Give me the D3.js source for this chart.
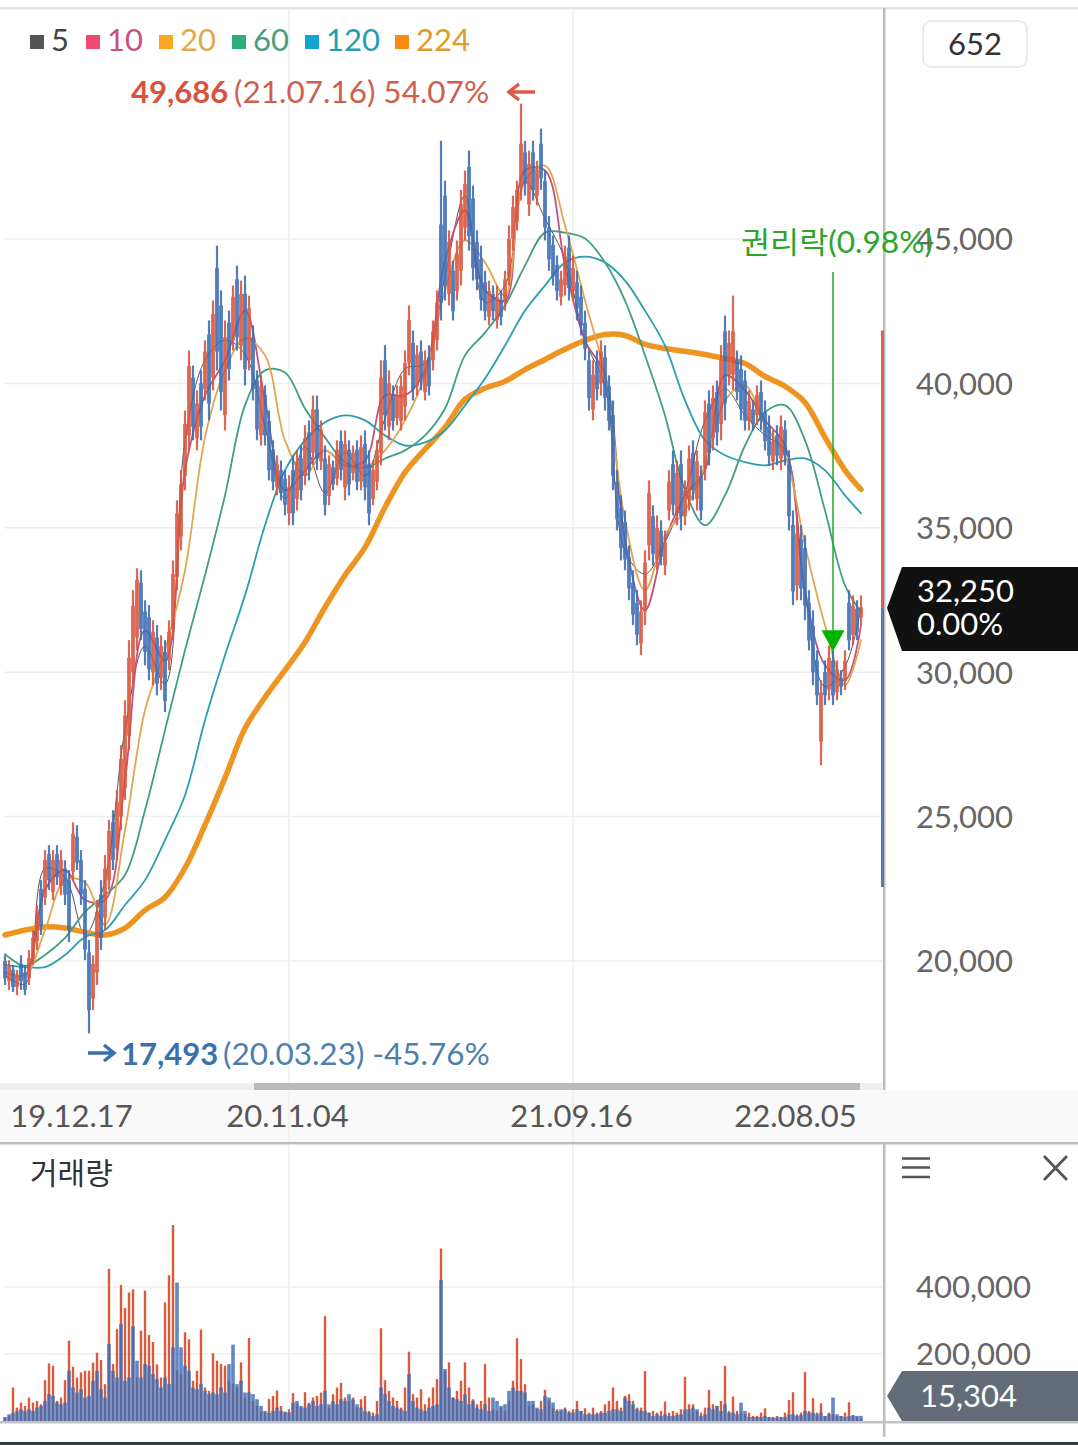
<!DOCTYPE html>
<html>
<head>
<meta charset="utf-8">
<script src="https://d3js.org/d3.v7.min.js"></script>
<style>
    body { margin: 0; background: #fff; }
    text { font-family: Lato, "Noto Sans CJK KR", sans-serif; }
</style>
</head>
<body>
<div id="chart"></div>
<script>
// candles, oldest first
var highs = [20200,20030,19860,19690,20200,19860,20380,21070,21940,22800,23840,24010,23840,24010,23840,23490,23150,24800,24700,23840,22800,20730,20200,22110,22800,23670,24880,25220,25920,27470,29030,31110,32840,33600,33530,32490,32320,31800,31630,31280,31110,31800,33870,35950,37000,39060,41140,40620,39760,40450,41490,42180,42870,44770,43220,42180,42520,43390,44080,43560,43730,43040,42010,40450,40280,39930,39060,38030,37510,37330,36990,36820,37510,37680,37850,38550,38720,39580,39580,38720,37850,37510,37330,38030,38370,38370,38030,37850,38030,38200,38370,37680,37330,38030,40800,41320,40450,39930,39930,40280,41140,42700,41830,41320,41490,41140,41320,42180,43220,48400,47020,45300,44250,44950,46700,47370,48060,46850,45300,44770,43900,43560,43390,43390,43220,43900,45470,46500,47020,49686,48400,48060,48400,47710,48820,47370,45800,45120,44430,43900,44770,45120,44430,43900,43390,42520,41140,40800,41140,41490,41320,40280,39410,36990,36120,35600,34390,33530,32840,32490,34220,36640,35780,35430,35260,34910,36990,37680,37330,37680,36640,37850,38030,37680,37160,39410,39760,39930,40100,41320,42350,41830,43040,41140,40970,40450,39760,39410,39930,40100,39410,38890,38370,38550,38890,38720,37680,35600,35260,35090,34740,32840,32140,30760,29720,30410,30930,30760,30410,30070,30760,32840,32660,32490,32660];
var lows = [19170,19000,18930,18820,19000,18820,19170,19860,20380,20900,21940,22460,22110,22630,22280,21940,20660,22800,23150,21940,20030,17493,18300,19170,20380,21070,22460,23150,23490,24530,25570,27300,29380,30760,31110,30240,29720,29550,29200,29380,28620,30070,31110,32840,34220,36300,37680,38030,37680,38030,39410,38720,39760,40450,39060,38370,40100,41140,41140,40800,39930,40450,39410,38030,37850,37850,36640,36300,36120,35950,35430,35090,35090,35600,35950,36470,36640,37160,37000,37000,35430,35780,36300,36470,36640,35950,36120,36640,36300,36300,35950,35090,35780,36300,37160,38370,38030,38370,38550,38370,38720,40280,39410,39580,39760,39410,39580,40450,41140,42180,42870,42700,42180,42870,43390,44950,44600,43560,43220,42520,42180,42010,42180,41900,42010,42520,43390,44600,45300,46330,46500,45800,46330,46160,46700,44950,43900,43390,42870,42700,43040,42870,42870,42180,41660,40800,39060,38720,39410,39580,39060,38370,36300,34910,33870,33530,32490,31630,30930,30590,31630,33870,33700,33530,33700,33360,35260,35430,35090,34910,35090,35600,35950,35600,35260,36640,37160,37680,37850,38030,38720,39930,39760,39410,38720,38370,38370,38370,38550,38370,37680,37160,37000,37160,37000,37160,34910,32320,32490,32490,31800,30760,29550,28860,26780,28860,29030,28860,29030,29200,29380,30760,30930,31110,31630];
var opens = [20000,19300,19700,19100,19900,19600,19400,20100,20700,22500,22200,23700,22400,23700,22600,23200,22800,23100,24300,23500,22500,20300,18700,19600,22300,21500,22800,24800,23900,25000,26000,27800,30000,31200,33100,32100,31900,30000,31200,29800,30700,30400,31500,33300,34700,36800,38200,40200,38100,40000,39800,41700,40200,44000,42700,38900,42100,41500,43600,41300,43100,40800,41600,40100,38200,39600,38700,37700,36400,37000,36700,35500,37000,36000,37400,36800,38300,37600,39100,37300,37400,36100,37100,36700,38000,36400,37700,36900,37700,36600,37900,37200,36000,36600,37600,40800,38500,39600,38800,38700,39200,40700,41400,39900,41100,39700,40900,40800,41500,45500,46500,43100,43900,43200,43900,45400,47500,46400,44900,44300,43500,42300,43100,42200,42900,42800,43700,45000,45600,46800,48000,46200,48000,46500,48300,47000,45400,44800,44100,43000,43400,44700,43200,43500,43000,42100,40800,39100,40700,40000,40900,39900,38900,36600,35700,35200,34000,33100,32400,31000,32100,34400,35400,33900,34900,33700,35600,37200,35500,37200,35400,36000,37600,36000,36800,37100,39300,38100,39700,38600,41800,40300,40300,40800,40500,40100,38700,39100,38900,39700,39000,38500,37300,38200,37400,38400,37200,35100,33000,34600,34300,32400,31600,30400,27600,30000,29400,30400,29300,29800,29700,32400,31300,32200,31900];
var closes = [19400,19800,19100,19500,19300,19000,20100,20800,21600,21200,23500,22800,23500,22900,23500,22300,21100,24400,23400,22300,20400,18300,19900,21700,20800,23200,24500,23500,25500,27000,28500,30500,32300,33200,31500,30700,30100,31400,29600,30900,29000,31400,33400,35500,36500,38600,40600,38500,39300,38500,41100,39300,42400,41100,39700,41600,40500,43000,41600,43100,40500,42600,39800,38400,39900,38200,37000,36600,37200,36200,35800,36400,35500,37300,36300,38100,37000,39100,37400,38400,35800,37200,36500,37700,37000,37900,36500,37600,36600,37800,36400,35500,37000,37700,40200,38900,40000,38700,39600,39900,40700,42200,39800,41000,40100,40800,39900,41800,42800,42800,43400,44900,42500,44500,46200,46900,45100,44000,43600,42900,42500,43200,42500,43000,42300,43600,45000,46100,46700,48300,46900,47600,46700,47400,47100,45400,44300,43700,43200,43600,44400,43300,44000,42600,42000,41200,39500,40300,39800,41100,39500,38700,36800,35300,34300,33900,32900,32000,31300,32100,33800,36200,34100,35000,34000,34500,36600,35800,36900,35400,36300,37400,36300,37300,35600,39000,37600,39500,38300,40800,39300,41400,41800,39700,39100,38700,39400,38600,39600,38700,38000,37500,38000,37500,38500,37500,35400,32800,34800,32900,32300,31100,30000,29200,29300,29200,30500,29200,30100,29500,30400,31100,32300,31400,32250];

// volume, by up days and down days
var volumeUp = [10,15,100,40,55,45,70,55,60,50,122,172,165,60,70,122,240,162,130,145,150,150,174,204,182,110,454,170,274,406,337,384,393,130,270,389,257,236,169,130,354,435,585,150,140,265,244,120,150,273,100,90,202,180,170,165,120,110,100,175,70,248,60,45,30,25,66,75,91,45,25,35,83,50,40,86,55,70,75,85,313,40,80,100,114,70,60,70,40,65,75,30,25,60,277,122,90,70,60,40,100,207,80,70,95,50,70,100,125,515,150,175,70,90,120,175,100,65,50,60,170,70,35,30,40,30,60,120,247,185,110,45,50,35,60,93,60,40,35,30,40,30,35,60,30,38,25,40,25,30,50,60,100,60,40,75,80,60,40,40,149,25,30,25,30,58,25,30,25,35,132,50,50,30,25,40,93,50,45,60,164,30,73,30,25,20,25,15,15,25,38,12,12,15,12,25,63,86,20,25,146,30,68,25,53,15,25,20,15,15,25,56,15,12,8];
var volumeDown = [12,20,25,30,35,30,35,30,40,45,60,80,75,55,50,55,150,100,85,95,70,75,120,150,95,70,230,150,130,290,120,130,283,180,130,170,165,140,125,100,130,110,220,413,220,165,150,100,95,110,90,80,85,80,100,85,170,228,110,120,85,85,80,65,45,30,25,30,40,30,28,25,55,60,45,40,50,60,45,50,90,50,60,50,65,60,80,65,50,40,30,25,15,20,100,80,60,45,40,35,30,140,60,40,35,30,40,45,50,421,155,100,70,65,60,80,50,60,40,35,50,30,70,60,45,50,90,100,90,90,85,60,60,40,35,75,70,55,30,35,35,25,25,35,30,20,20,20,20,25,25,30,35,35,30,70,60,50,35,30,30,25,15,20,15,20,15,15,18,20,35,35,40,35,15,20,40,35,45,30,50,25,25,20,55,30,12,12,12,12,15,12,10,10,12,12,20,20,15,18,30,25,25,20,25,15,20,70,20,15,12,15,18,15,15.304];

// moving averages, one value every fifth candle plus the last one
var ma5 = [19500,19200,23200,22900,20900,22800,28000,30900,29600,38000,40800,41500,41000,38500,36000,37800,36200,37600,36800,38800,40500,40700,43700,46500,42800,43400,47000,45700,44300,41500,39900,34200,33400,34500,36200,38700,39800,38900,38200,37700,32700,29500,30200,32250];
var ma10 = [19620,19520,22460,23150,22110,22110,26260,31450,30410,36990,39580,40800,42520,39410,36300,36990,37680,37160,37330,39580,39580,40450,44250,45990,43220,42870,47370,47370,44080,41490,40280,34570,32140,34570,36120,36990,40280,39760,38720,37850,32840,30240,29720,31630];
var ma20 = [19620,19520,21070,22800,22730,21250,24530,28680,30760,33530,38130,40450,41560,40970,38030,36820,37680,37160,37090,37680,38720,40280,43220,44950,44190,43040,47020,47540,45470,42870,40280,35260,32840,34740,35600,37160,39410,39930,38550,37510,34390,31630,29550,31110];
var ma60 = [20240,19830,20210,20800,21700,22280,22980,25220,27990,30760,33360,36120,39240,40450,40380,39130,38130,37270,37090,37400,37680,38200,39130,40970,41760,42700,44080,45220,45220,45020,44190,42870,40970,38890,36300,35090,36120,37850,39000,39240,38030,35600,33010,32080];
var ma120 = [19860,19790,19790,20210,20830,21070,21940,22800,24190,25740,28340,30590,32660,35090,36990,38030,38650,38890,38720,38200,37850,37960,38370,39240,40170,41310,42520,43390,44190,44390,44190,43560,42520,41310,39410,38030,37510,37270,37160,37330,37400,36990,36120,35500];
var ma224 = [20900,21070,21180,21140,21000,20900,21140,21760,22210,23220,24710,26340,28060,29130,30070,31040,32250,33360,34320,35710,36920,37720,38480,39450,39830,40070,40480,40830,41180,41490,41690,41660,41350,41210,41110,41000,40860,40690,40240,39900,39340,38130,36990,36330];

var legendLabels = ['5', '10', '20', '60', '120', '224'];
var priceTicks = [20000, 25000, 30000, 35000, 40000, 45000];
var volumeTicks = [200000, 400000];
var dateLabels = ['19.12.17', '20.11.04', '21.09.16', '22.08.05'];
var dateCandles = [17, 71, 142, 198];
var gridCandles = [71, 142];

var maxPrice = 49686;
var minPrice = 17493;
var lastPrice = 32250;
var lastVolume = 15304;
var rangeTop = 41830;
var rangeBottom = 22560;
var exRightsCandle = 207;
var exRightsPrice = 31450;

var svgWidth = 1078;
var svgHeight = 1445;
var red = '#d9533c';
var blue = '#3a6cb5';

var svg = d3.select('#chart')
    .append('svg')
    .attr('width', svgWidth)
    .attr('height', svgHeight)
    .style('display', 'block');

var x = d3.scaleLinear().domain([0, highs.length - 1]).range([5, 861]);
var y = d3.scaleLinear().domain([20000, 45000]).range([961, 239]);
var yVol = d3.scaleLinear().domain([0, 400000]).range([1421, 1287]);

// x position of the moving average samples
var maIndex = d3.range(0, highs.length, 5).concat([highs.length - 1]);

// panels and grid
svg.append('rect').attr('x', 0).attr('y', 1090).attr('width', svgWidth).attr('height', 53).attr('fill', '#f9f9f9');
svg.append('rect').attr('x', 0).attr('y', 1083).attr('width', 884).attr('height', 7).attr('fill', '#eeeeee');
svg.append('rect').attr('x', 254).attr('y', 1083).attr('width', 606).attr('height', 7).attr('fill', '#bbbbbb');
svg.append('rect').attr('x', 0).attr('y', 7).attr('width', svgWidth).attr('height', 2.5).attr('fill', '#e4e4e4');

var grid = svg.append('g').attr('stroke', '#eeeeee').attr('stroke-width', 1.5);
grid.selectAll('.hp').data(priceTicks).enter().append('line')
    .attr('x1', 5).attr('x2', 882)
    .attr('y1', d => y(d)).attr('y2', d => y(d));
grid.selectAll('.hv').data(volumeTicks).enter().append('line')
    .attr('x1', 5).attr('x2', 882)
    .attr('y1', d => yVol(d)).attr('y2', d => yVol(d));
grid.selectAll('.v1').data(gridCandles).enter().append('line')
    .attr('x1', d => x(d)).attr('x2', d => x(d))
    .attr('y1', 9).attr('y2', 1083);
grid.selectAll('.v2').data(gridCandles).enter().append('line')
    .attr('x1', d => x(d)).attr('x2', d => x(d))
    .attr('y1', 1090).attr('y2', 1421);

// moving averages under the candles
function maLine(values, color, width) {
    var line = d3.line()
        .x((d, i) => x(maIndex[i]))
        .y(d => y(d))
        .curve(d3.curveCatmullRom.alpha(0.5));
    svg.append('path')
        .attr('d', line(values))
        .attr('fill', 'none')
        .attr('stroke', color)
        .attr('stroke-width', width)
        .attr('stroke-linecap', 'round');
}
maLine(ma5, '#555555', 1);
maLine(ma10, '#c4527f', 1.8);
maLine(ma224, '#ee9420', 5.5);
maLine(ma120, '#2a9fb0', 1.8);
maLine(ma60, '#3f9f80', 1.8);
maLine(ma20, '#e0a650', 1.8);

// candles
var candles = svg.append('g').selectAll('g')
    .data(highs.map((d, i) => i))
    .enter()
    .append('g')
    .attr('opacity', 0.88);
candles.append('line')
    .attr('x1', i => x(i)).attr('x2', i => x(i))
    .attr('y1', i => y(highs[i])).attr('y2', i => y(lows[i]))
    .attr('stroke', i => closes[i] >= opens[i] ? red : blue)
    .attr('stroke-width', 2.2);
candles.append('rect')
    .attr('x', i => x(i) - 1.9)
    .attr('width', 3.8)
    .attr('y', i => y(Math.max(opens[i], closes[i])))
    .attr('height', i => Math.abs(y(opens[i]) - y(closes[i])))
    .attr('fill', i => closes[i] >= opens[i] ? red : blue);

// volume bars
svg.append('g').selectAll('rect')
    .data(volumeUp)
    .enter()
    .append('rect')
    .attr('x', (d, i) => x(i) - 1.2)
    .attr('width', 2.4)
    .attr('y', d => yVol(d * 1000))
    .attr('height', d => yVol(0) - yVol(d * 1000))
    .attr('fill', '#dc5a3c');
svg.append('g').selectAll('rect')
    .data(volumeDown)
    .enter()
    .append('rect')
    .attr('x', (d, i) => x(i) - 1.8)
    .attr('width', 3.6)
    .attr('y', d => yVol(d * 1000))
    .attr('height', d => yVol(0) - yVol(d * 1000))
    .attr('fill', '#3f6db5')
    .attr('opacity', 0.82);

// axes and panel borders
svg.append('rect').attr('x', 0).attr('y', 1421).attr('width', svgWidth).attr('height', 2.5).attr('fill', '#c4c4c4');
svg.append('rect').attr('x', 0).attr('y', 1142).attr('width', svgWidth).attr('height', 2.5).attr('fill', '#bdbdbd');
svg.append('rect').attr('x', 883).attr('y', 8).attr('width', 2.5).attr('height', 1082).attr('fill', '#bdbdbd');
svg.append('rect').attr('x', 883).attr('y', 1143).attr('width', 2.5).attr('height', 294).attr('fill', '#bdbdbd');
svg.append('rect').attr('x', 0).attr('y', 1442).attr('width', svgWidth).attr('height', 3).attr('fill', '#333c44');

// high to low range bar beside the axis
svg.append('line').attr('x1', 882.5).attr('x2', 882.5)
    .attr('y1', y(rangeTop)).attr('y2', y(lastPrice))
    .attr('stroke', '#d8604c').attr('stroke-width', 3);
svg.append('line').attr('x1', 882.5).attr('x2', 882.5)
    .attr('y1', y(lastPrice)).attr('y2', y(rangeBottom))
    .attr('stroke', '#4a7fae').attr('stroke-width', 3);

var priceAxis = d3.axisRight(y)
    .tickValues(priceTicks)
    .tickSize(0)
    .tickPadding(0)
    .tickFormat(d3.format(','));
svg.append('g')
    .attr('transform', 'translate(1013, 1)')
    .call(priceAxis)
    .call(g => g.select('.domain').remove())
    .selectAll('text')
    .attr('text-anchor', 'end')
    .attr('font-size', 31)
    .attr('fill', '#666666')
    .style('font-family', 'Lato');

var volumeAxis = d3.axisRight(yVol)
    .tickValues(volumeTicks)
    .tickSize(0)
    .tickPadding(0)
    .tickFormat(d3.format(','));
svg.append('g')
    .attr('transform', 'translate(1031, 1)')
    .call(volumeAxis)
    .call(g => g.select('.domain').remove())
    .selectAll('text')
    .attr('text-anchor', 'end')
    .attr('font-size', 31)
    .attr('fill', '#666666')
    .style('font-family', 'Lato');

var dateAxis = d3.axisBottom(x)
    .tickValues(dateCandles)
    .tickSize(0)
    .tickPadding(0)
    .tickFormat((d, i) => dateLabels[i]);
svg.append('g')
    .attr('transform', 'translate(-2, 1105)')
    .call(dateAxis)
    .call(g => g.select('.domain').remove())
    .selectAll('text')
    .attr('font-size', 31)
    .attr('fill', '#555555')
    .style('font-family', 'Lato');

// legend
var legendColors = ['#555555', '#ef4a73', '#f9a825', '#2fae7a', '#12a5d3', '#f98c0e'];
var legendText = ['#444444', '#c9507a', '#e0a94c', '#4a9d7c', '#1f9db5', '#dd9a2d'];
var legendX = [30, 86, 159, 232, 305, 395];
legendLabels.forEach(function(label, i) {
    svg.append('rect')
        .attr('x', legendX[i]).attr('y', 35)
        .attr('width', 14).attr('height', 14)
        .attr('fill', legendColors[i]);
    svg.append('text')
        .attr('x', legendX[i] + 21).attr('y', 51)
        .attr('font-size', 31)
        .attr('fill', legendText[i])
        .text(label);
});

// candle count box
svg.append('rect')
    .attr('x', 923).attr('y', 21).attr('width', 104).attr('height', 46).attr('rx', 8)
    .attr('fill', '#fff').attr('stroke', '#eaeaea').attr('stroke-width', 2);
svg.append('text')
    .attr('x', 975).attr('y', 55)
    .attr('text-anchor', 'middle').attr('font-size', 31).attr('fill', '#333333')
    .text('652');

// high and low notes
svg.append('text').attr('x', 131).attr('y', 103).attr('font-size', 31).attr('font-weight', 700).attr('fill', red).text(d3.format(',')(maxPrice));
svg.append('text').attr('x', 234).attr('y', 103).attr('font-size', 31.5).attr('fill', '#d0604e').text('(21.07.16) 54.07%');
svg.append('text').attr('x', 121).attr('y', 1065).attr('font-size', 31).attr('font-weight', 700).attr('fill', '#3a70ab').text(d3.format(',')(minPrice));
svg.append('text').attr('x', 223).attr('y', 1065).attr('font-size', 31.5).attr('fill', '#4b7fb0').text('(20.03.23) -45.76%');

svg.append('path').attr('d', 'M509,92H535M519,84L509,92L519,100')
    .attr('fill', 'none').attr('stroke', '#dd5a48').attr('stroke-width', 3.5);
svg.append('path').attr('d', 'M88,1053H114M104,1045L114,1053L104,1061')
    .attr('fill', 'none').attr('stroke', '#3a70ab').attr('stroke-width', 3.5);

// ex-rights marker
svg.append('line')
    .attr('x1', x(exRightsCandle)).attr('x2', x(exRightsCandle))
    .attr('y1', 272).attr('y2', y(exRightsPrice))
    .attr('stroke', '#22aa22').attr('stroke-width', 1.5);
svg.append('path')
    .attr('transform', `translate(${x(exRightsCandle)}, ${y(exRightsPrice)})`)
    .attr('d', 'M-11.5,0H11.5L0,21Z')
    .attr('fill', '#00b300');
svg.append('text')
    .attr('x', 741).attr('y', 253)
    .attr('font-size', 30).attr('fill', '#2aa52a')
    .attr('textLength', 192).attr('lengthAdjust', 'spacingAndGlyphs')
    .text('권리락(0.98%)');

// current price tag
svg.append('path').attr('d', 'M887,608L902,567H1078V651H902Z').attr('fill', '#111111');
svg.append('text').attr('x', 917).attr('y', 602).attr('font-size', 31).attr('fill', '#fff').text(d3.format(',')(lastPrice));
svg.append('text').attr('x', 917).attr('y', 635).attr('font-size', 31).attr('fill', '#fff').text('0.00%');

// current volume tag
svg.append('path').attr('d', 'M887,1396L902,1371H1078V1421H902Z').attr('fill', '#636c78');
svg.append('text').attr('x', 920).attr('y', 1407).attr('font-size', 31).attr('fill', '#fff').text(d3.format(',')(lastVolume));

// volume panel header and icons
svg.append('text').attr('x', 30).attr('y', 1184).attr('font-size', 30).attr('fill', '#333333').text('거래량');
svg.append('path').attr('d', 'M902,1158.5H930M902,1167.5H930M902,1177H930')
    .attr('stroke', '#555555').attr('stroke-width', 2.5);
svg.append('path').attr('d', 'M1044,1156L1067,1180M1067,1156L1044,1180')
    .attr('stroke', '#555555').attr('stroke-width', 2.8);
</script>
</body>
</html>
